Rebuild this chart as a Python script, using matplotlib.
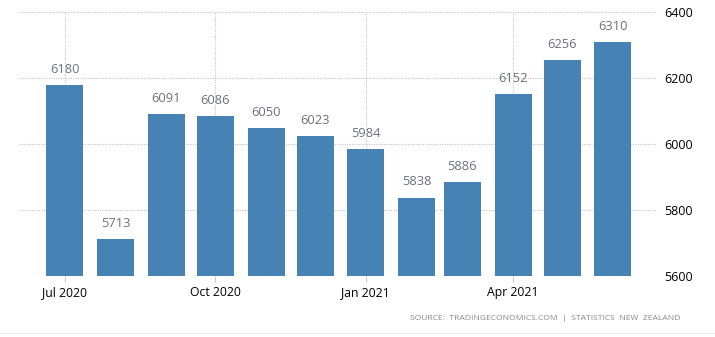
import matplotlib
matplotlib.use("Agg")
import matplotlib.pyplot as plt
import matplotlib.dates as mdates
from matplotlib.lines import Line2D
import datetime as dt

# Monthly values, Jul 2020 - Jun 2021
months = ["2020-07", "2020-08", "2020-09", "2020-10", "2020-11", "2020-12",
          "2021-01", "2021-02", "2021-03", "2021-04", "2021-05", "2021-06"]
values = [6180, 5713, 6091, 6086, 6050, 6023, 5984, 5838, 5886, 6152, 6256, 6310]
tick_months = ["2020-07", "2020-10", "2021-01", "2021-04"]
tick_labels = ["Jul 2020", "Oct 2020", "Jan 2021", "Apr 2021"]
y_ticks = [5600, 5800, 6000, 6200, 6400]

dates = [dt.datetime.strptime(m, "%Y-%m") for m in months]
tick_dates = [dt.datetime.strptime(m, "%Y-%m") for m in tick_months]

plt.rcParams["font.family"] = ["Open Sans", "DejaVu Sans"]

fig = plt.figure(figsize=(7.15, 3.37), dpi=100)
ax = fig.add_axes([0.0266, 0.181, 0.8924, 0.783])

x = mdates.date2num(dates)
bar_color = "#4682b4"
ax.bar(x, [v - y_ticks[0] for v in values], bottom=y_ticks[0], width=22.6,
       color=bar_color, zorder=2)

for xi, v in zip(x, values):
    ax.annotate(f"{v}", (xi, v), xytext=(0, 6.5), textcoords="offset points",
                ha="center", va="bottom", fontsize=9.3, color="#6f6f7f")

ax.set_ylim(y_ticks[0], y_ticks[-1])
ax.set_xlim(mdates.date2num(dt.datetime(2020, 6, 3)),
            mdates.date2num(dt.datetime(2021, 6, 28)))

ax.yaxis.tick_right()
ax.set_yticks(y_ticks)
ax.set_yticklabels([str(t) for t in y_ticks], fontsize=9, color="#000000")
ax.tick_params(axis="y", length=0, pad=5)

ax.set_xticks(mdates.date2num(tick_dates))
ax.set_xticklabels(tick_labels, fontsize=8.8, color="#000000")
ax.tick_params(axis="x", length=4, color="#cccccc", pad=3)

ax.grid(True, axis="both", linestyle=(0, (1, 1.2)), color="#c4c4c4",
        linewidth=0.8, zorder=0)
for s in ax.spines.values():
    s.set_visible(False)

fig.text(0.952, 0.056, "SOURCE:  TRADINGECONOMICS.COM  |  STATISTICS  NEW  ZEALAND",
         ha="right", va="center", fontsize=6.1, color="#8a8a8a")
fig.add_artist(Line2D([0, 1], [0.012, 0.012], transform=fig.transFigure,
                      color="#eeeeee", linewidth=1))

fig.savefig("out.png", dpi=100)
